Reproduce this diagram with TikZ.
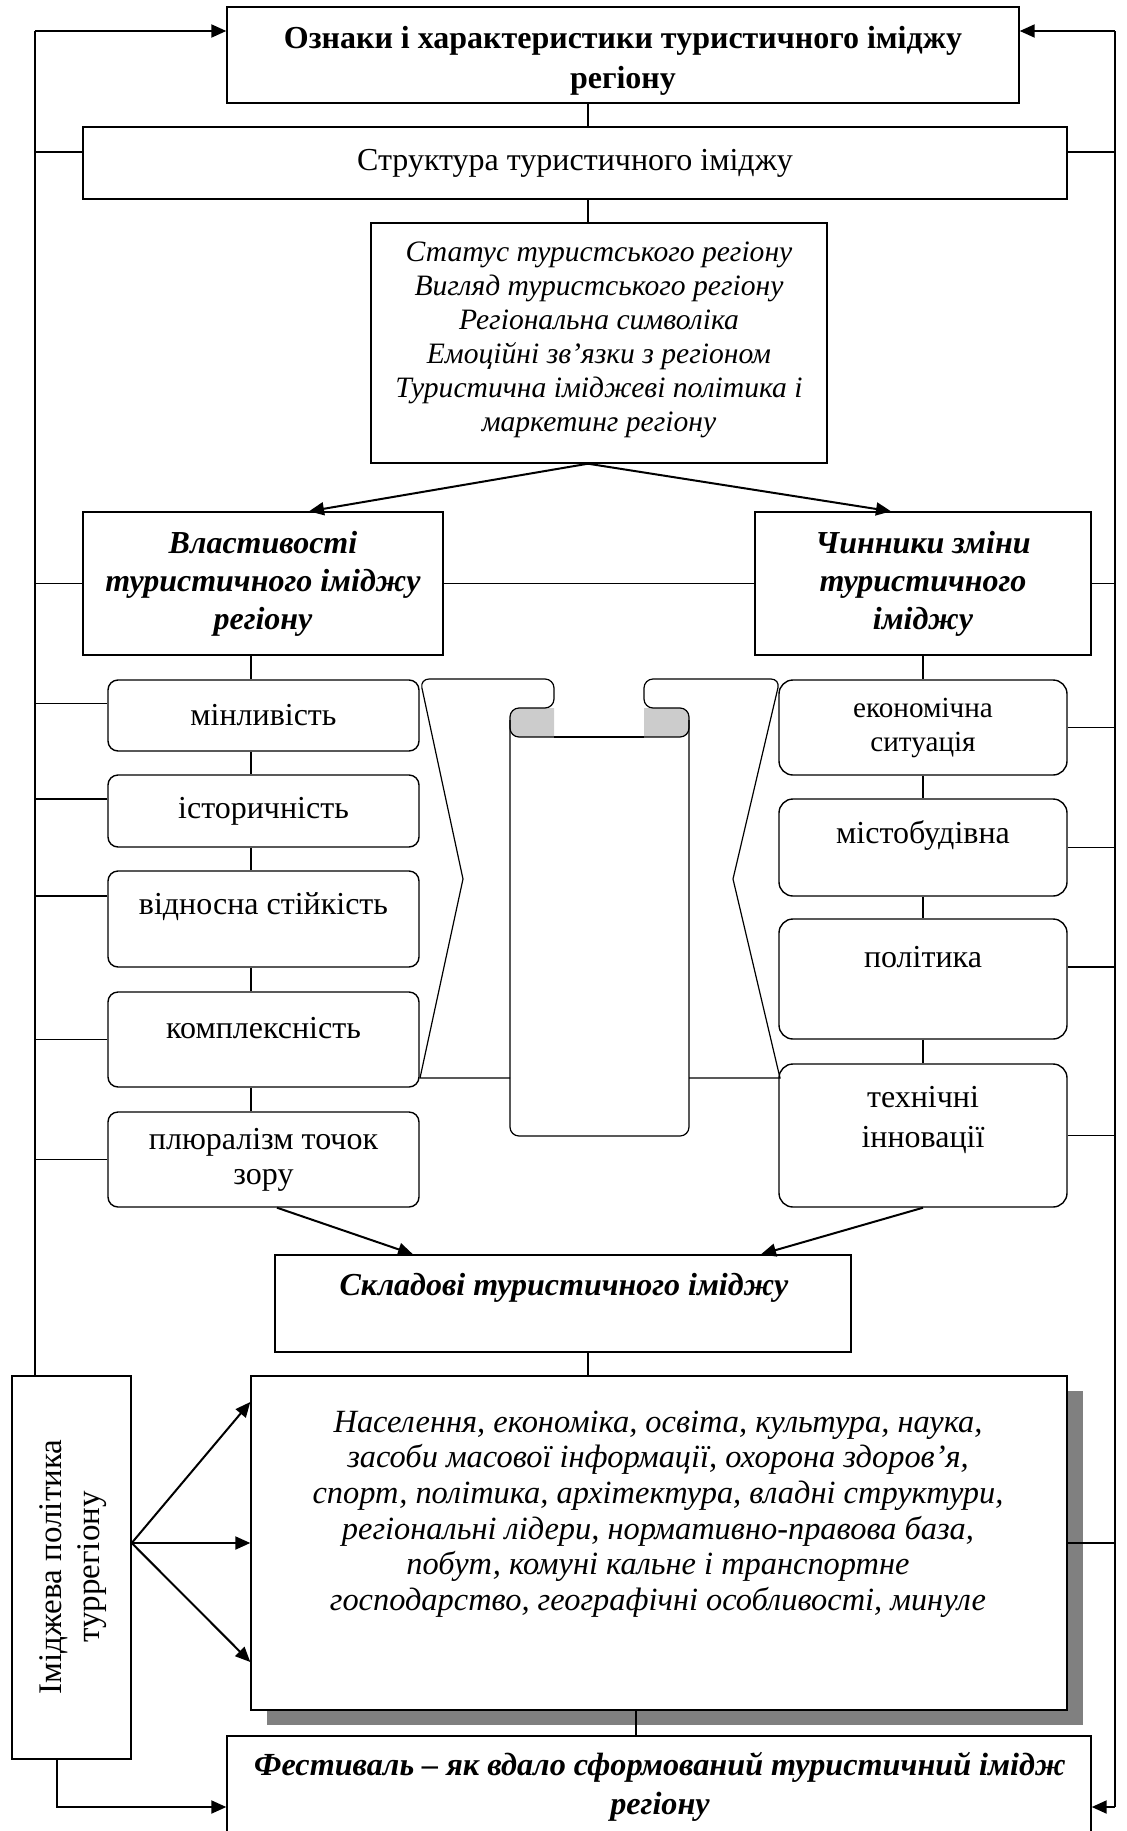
\documentclass[tikz,border=0pt]{standalone}
\usepackage{fontspec}
\setmainfont{Liberation Serif}
\usetikzlibrary{arrows.meta, shadows}

\tikzset{
  box/.style={draw, line width=0.7pt, inner sep=2pt, fill=white},
  pbox/.style={box, rounded corners=5pt, minimum width=155.5pt},
  fbox/.style={box, rounded corners=7pt, minimum width=144pt},
  line/.style={line width=0.6pt},
  arr/.style={line width=1pt, -{Triangle[length=7.5pt, width=6.5pt]}},
  bi/.style={font=\bfseries\itshape\fontsize{16}{19}\selectfont, align=center},
}

\begin{document}
\begin{tikzpicture}[x=0.5pt, y=-0.5pt, font=\fontsize{16}{17.5}\selectfont]
  \path[use as bounding box, clip] (0,0) rectangle (1127,1831);

  % trunks and axes
  \coordinate (ltop) at (35,31);
  \coordinate (rtop) at (1115,31);
  \coordinate (rbot) at (1115,1807);
  \coordinate (lbend) at (57,1807);
  \coordinate (axis) at (588,0);
  \coordinate (laxis) at (251,0);
  \coordinate (baxis) at (636,0);

  \node[box, minimum width=396pt, minimum height=48pt] (title) at (623,55) {};
  \node[align=center, font=\bfseries\fontsize{16}{20}\selectfont] (titletext) at (623,61)
    {Ознаки і характеристики туристичного іміджу\\регіону};
  \node[box, minimum width=492pt, minimum height=36pt] (struct) at (575,163)
    {Структура туристичного іміджу};
  \node[box, minimum width=228pt, minimum height=120pt] (status) at (599,343) {};
  \node[align=center, font=\itshape\fontsize{14.8}{17}\selectfont] (statustext) at (599,340)
    {Статус туристського регіону\\Вигляд туристського регіону\\Регіональна символіка\\
     Емоційні зв’язки з регіоном\\Туристична іміджеві політика і\\маркетинг регіону};

  \node[box, bi, minimum width=180pt, minimum height=71.5pt] (props) at (263,583.5)
    {Властивості\\туристичного іміджу\\регіону};
  \node[box, bi, minimum width=168pt, minimum height=71.5pt] (factors) at (923,583.5)
    {Чинники зміни\\туристичного\\іміджу};

  % left column
  \node[pbox, minimum height=35.5pt] (p1) at (263.5,715.5) {мінливість};
  \node[pbox, minimum height=36pt] (p2) at (263.5,811) {історичність};
  \node[pbox, minimum height=48pt] (p3) at (263.5,919) {};
  \node (p3text) at (263.5,907) {відносна стійкість};
  \node[pbox, minimum height=47.5pt] (p4) at (263.5,1039.5) {};
  \node (p4text) at (263.5,1028) {комплексність};
  \node[pbox, minimum height=47.5pt, align=center] (p5) at (263.5,1159.5) {плюралізм точок\\зору};

  % right column
  \node[fbox, minimum height=47.5pt, align=center,
        font=\fontsize{14.6}{17}\selectfont] (f1) at (923,727.5) {економічна\\ситуація};
  \node[fbox, minimum height=48.5pt] (f2) at (923,847.5) {};
  \node (f2text) at (923,835) {містобудівна};
  \node[fbox, minimum height=60pt] (f3) at (923,979) {};
  \node (f3text) at (923,957) {політика};
  \node[fbox, minimum height=71.5pt] (f4) at (923,1135.5) {};
  \node[align=center, font=\fontsize{16}{20}\selectfont] (f4text) at (923,1120) {технічні\\інновації};

  % scroll
  \fill[black!20] (554,737) [rounded corners=4.5pt] -- (510,737) -- (510,708) [sharp corners] -- (554,708) -- cycle;
  \fill[black!20] (644,737) [rounded corners=4.5pt] -- (689,737) -- (689,708) [sharp corners] -- (644,708) -- cycle;
  \draw[line] (554,737) [rounded corners=4.5pt] -- (510,737) -- (510,708) -- (554,708)
    -- (554,679) -- (420,679) [sharp corners] -- (463,879) -- (420,1078) -- (510,1078);
  \draw[line] (644,737) [rounded corners=4.5pt] -- (689,737) -- (689,708) -- (644,708)
    -- (644,679) -- (780,679) [sharp corners] -- (733,879) -- (780,1078) -- (689,1078);
  \draw[line, rounded corners=4.5pt] (510,720) -- (510,1136) -- (689,1136) -- (689,720);
  \draw[line] (554,737) -- (644,737);

  \node[box, minimum width=288pt, minimum height=48.5pt] (compos) at (563,1303.5) {};
  \node[bi] (compostext) at (564,1288) {Складові туристичного іміджу};

  \node[box, minimum width=408pt, minimum height=167pt,
        drop shadow={shadow xshift=8pt, shadow yshift=-7.5pt, fill=black!50, opacity=1}]
    (big) at (659,1543) {};
  \node[align=center, font=\itshape\fontsize{16.2}{17.8}\selectfont] (bigtext) at (658,1514)
    {Населення, економіка, освіта, культура, наука,\\
     засоби масової інформації, охорона здоров’я,\\
     спорт, політика, архітектура, владні структури,\\
     регіональні лідери, нормативно-правова база,\\
     побут, комуні кальне і транспортне\\
     господарство, географічні особливості, минуле};

  \node[box, minimum width=59.5pt, minimum height=191.5pt] (policy) at (71.5,1567.5) {};
  \node[rotate=90, align=center, font=\fontsize{16.5}{19}\selectfont] (policytext) at (73,1567)
    {Іміджева політика\\туррегіону};

  \node[box, minimum width=432pt, minimum height=50pt] (fest) at (659,1786) {};
  \node[bi, font=\bfseries\itshape\fontsize{16.1}{19.5}\selectfont] (festtext) at (660,1787)
    {Фестиваль – як вдало сформований туристичний імідж\\регіону};

  % connectors
  \draw[line] (title.south -| axis) -- (struct.north -| axis);
  \draw[line] (struct.south -| axis) -- (status.north -| axis);
  \draw[arr] (status.south -| axis) -- ([xshift=23pt]props.north);
  \draw[arr] (status.south -| axis) -- ([xshift=-16pt]factors.north);
  \draw[line] (props.east) -- (factors.west);
  \foreach \a/\b in {props/p1, p1/p2, p2/p3, p3/p4, p4/p5}
    \draw[line] (\a.south -| laxis) -- (\b.north -| laxis);
  \foreach \a/\b in {factors/f1, f1/f2, f2/f3, f3/f4}
    \draw[line] (\a.south) -- (\b.north);
  \draw[arr] ([xshift=6.75pt]p5.south) -- ([xshift=-75pt]compos.north);
  \draw[arr] (f4.south) -- ([xshift=99pt]compos.north);
  \draw[line] (compos.south -| axis) -- (big.north -| axis);
  \draw[line] (big.south -| baxis) -- (fest.north -| baxis);
  \foreach \s in {70.5, 0, -59.5}
    \draw[arr] (policy.east |- big.west) -- ([yshift=\s pt]big.west);

  % side lines
  \draw[line] (ltop) -- (policy.north -| ltop);
  \draw[arr] (ltop) -- (ltop -| title.west);
  \draw[line] (rtop) -- (rbot);
  \draw[arr] (rtop) -- (rtop -| title.east);
  \draw[arr] (rbot) -- (rbot -| fest.east);
  \draw[arr] (policy.south -| lbend) -- (lbend) -- (lbend -| fest.west);
  \foreach \n/\s in {struct/5.5, props/0, p1/6, p2/6, p3/11.5, p4/0, p5/0}
    \draw[line] ([yshift=\s pt]\n.west) -- ([yshift=\s pt]\n.west -| ltop);
  \foreach \n/\s in {struct/5.5, factors/0, f1/0, f2/0, f3/6, f4/0, big/0}
    \draw[line] ([yshift=\s pt]\n.east) -- ([yshift=\s pt]\n.east -| rtop);
\end{tikzpicture}
\end{document}
